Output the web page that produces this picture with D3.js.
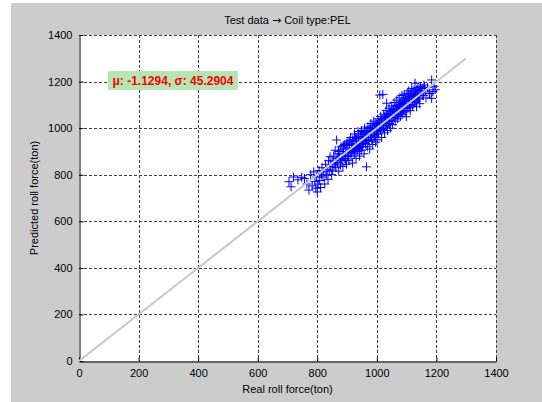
<!DOCTYPE html>
<html>
<head>
<meta charset="utf-8">
<script src="https://cdn.jsdelivr.net/npm/d3@7"></script>
<style>
  body { margin: 0; background: #fff; }
  svg { display: block; }
  text { font-family: "Liberation Sans", Arial, sans-serif; }
</style>
</head>
<body>
<svg id="chart" width="542" height="402"></svg>
<script>
// tick values on both axes
var xTicks = [0, 200, 400, 600, 800, 1000, 1200, 1400]
var yTicks = [0, 200, 400, 600, 800, 1000, 1200, 1400]
// y = x reference line ends
var refLine = [0, 1300]
// real roll force (x) and predicted roll force (y)
var realForce = [
  705,712,720,735,748,757,765,772,778,783,788,792,795,798,800,803,806,808,811,814,
  816,819,822,825,828,830,833,836,838,840,843,845,848,850,
  852,855,857,860,862,865,866,868,870,872,874,876,878,880,882,884,886,888,890,892,894,896,898,
  900,901,903,905,906,908,910,912,913,915,917,918,920,922,924,925,927,929,930,932,934,936,937,939,940,942,944,946,948,949,
  951,952,954,956,957,959,961,962,964,965,966,968,970,971,973,975,976,978,980,981,983,985,986,988,990,991,993,994,996,998,999,
  1001,1003,1004,1006,1008,1010,1011,1013,1014,1016,1018,1020,1021,1023,1024,1026,1028,1030,1031,1033,1034,1036,1038,1040,1041,1043,1045,1047,1048,1050,
  1052,1053,1055,1057,1058,1060,1062,1064,1065,1067,1069,1070,1072,1074,1075,1077,1079,1080,1082,1084,1085,1087,1089,1090,1092,1094,1095,1097,1099,1100,
  1102,1104,1105,1107,1109,1110,1112,1114,1115,1117,1119,1120,1122,1124,1126,1128,1129,1131,1133,1134,1136,1138,1140,1142,1144,1146,1148,
  1152,1155,1158,1162,1165,1170,1176,1178,1184,1184,1188,1192,1196,
  862,871,879,887,893,899,904,909,914,919,923,928,933,938,943,947,953,958,963,967,
  972,977,982,987,992,997,1002,1007,1012,1017,1022,1027,1032,1037,1042,1046,1051,1056,1061,1066,
  1071,1076,1081,1086,1091,1096,1101,1106,1111,1116,1121,1127,1132,1137,1143,1149,1156,1160
]
var predForce = [
  770,748,790,778,789,784,760,734,800,752,812,770,742,790,726,760,818,775,745,800,
  830,790,812,760,845,800,822,780,860,815,877,835,800,858,
  820,880,845,905,830,949,870,852,890,815,875,900,842,920,865,890,835,910,878,930,860,900,845,
  915,880,940,895,862,925,900,960,880,930,905,850,945,915,890,975,935,910,870,955,925,900,985,945,915,880,965,930,905,990,
  955,920,975,940,890,1000,960,935,985,834,950,920,1005,970,945,990,910,960,1020,985,950,1000,930,975,1030,960,995,963,940,1015,985,
  950,1040,1005,975,1025,1142,990,1050,1015,960,1035,1145,1000,1060,1025,980,1045,1010,1075,1107,1030,990,1055,1020,1085,1045,1000,1065,1030,1095,
  1060,1015,1080,1045,1110,1070,1030,1095,1060,1120,1080,1040,1100,1070,1130,1090,1050,1110,1075,1140,1100,1060,1120,1085,1145,1105,1070,1130,1049,1115,
  1150,1090,1125,1160,1100,1135,1075,1150,1115,1170,1130,1095,1160,1140,1110,1193,1150,1120,1092,1165,1140,1175,1130,1160,1105,1180,1150,
  1170,1140,1185,1160,1130,1175,1150,1149,1207,1128,1157,1180,1165,
  850,900,860,925,870,935,880,945,895,950,900,960,910,965,920,975,935,980,945,990,
  950,1000,960,1010,970,1020,985,1025,995,1040,1000,1050,1010,1060,1020,1070,1035,1075,1045,1085,
  1055,1095,1065,1105,1075,1115,1085,1125,1090,1135,1100,1145,1115,1150,1125,1160,1140,1175
]
var stats = { mu: -1.1294, sigma: 45.2904 }

var svg = d3.select("#chart")
var W = 542, H = 402
var mLeft = 79, mRight = 496, mTop = 35, mBottom = 361

// grey figure background
svg.append("rect").attr("x", 11).attr("y", 3).attr("width", W - 11).attr("height", H - 3)
  .attr("fill", "#cccccc")
svg.append("rect").attr("x", mLeft).attr("y", mTop).attr("width", mRight - mLeft).attr("height", mBottom - mTop)
  .attr("fill", "#ffffff")

var x = d3.scaleLinear().domain([0, 1400]).range([mLeft, mRight])
var y = d3.scaleLinear().domain([0, 1400]).range([mBottom, mTop])

// dotted grid
var grid = svg.append("g").attr("stroke", "#404040").attr("stroke-dasharray", "3,2").attr("stroke-width", 1)
xTicks.slice(1).forEach(function(t) {
  grid.append("line").attr("x1", Math.round(x(t)) + 0.5).attr("x2", Math.round(x(t)) + 0.5)
    .attr("y1", mTop).attr("y2", mBottom)
})
yTicks.slice(1).forEach(function(t) {
  grid.append("line").attr("y1", Math.round(y(t)) + 0.5).attr("y2", Math.round(y(t)) + 0.5)
    .attr("x1", mLeft).attr("x2", mRight)
})

// axes, ticks pointing inward
var xAxis = svg.append("g").attr("transform", "translate(0," + (mBottom + 0.5) + ")")
  .call(d3.axisBottom(x).tickValues(xTicks).tickFormat(d3.format("d")).tickSizeInner(-4).tickSizeOuter(0).tickPadding(8))
var yAxis = svg.append("g").attr("transform", "translate(" + (mLeft + 0.5) + ",0)")
  .call(d3.axisLeft(y).tickValues(yTicks).tickFormat(d3.format("d")).tickSizeInner(-4).tickSizeOuter(0).tickPadding(7))
;[xAxis, yAxis].forEach(function(a) {
  a.selectAll("path,line").attr("stroke", "#000")
  a.selectAll("text").attr("font-size", 11).attr("fill", "#000")
    .attr("font-family", "'Liberation Sans', Arial, sans-serif")
})

// scatter of '+' markers
var pts = realForce.map(function(v, i) { return [v, predForce[i]] })
var plus = svg.append("g").attr("stroke", "#0000ff").attr("stroke-width", 1).attr("fill", "none")
pts.forEach(function(p) {
  var cx = x(p[0]), cy = y(p[1]), s = 4.5
  plus.append("path").attr("d", "M" + (cx - s) + "," + cy + "H" + (cx + s) + "M" + cx + "," + (cy - s) + "V" + (cy + s))
})

// y = x line drawn on top
svg.append("line")
  .attr("x1", x(refLine[0])).attr("y1", y(refLine[0]))
  .attr("x2", x(refLine[1])).attr("y2", y(refLine[1]))
  .attr("stroke", "#c8c8c8").attr("stroke-width", 2)

// annotation box
var label = "\u03bc: " + stats.mu + ", \u03c3: " + stats.sigma
svg.append("rect").attr("x", 108).attr("y", 71).attr("width", 130).attr("height", 19)
  .attr("fill", "#b4e6b4")
svg.append("text").attr("x", 173).attr("y", 85).attr("text-anchor", "middle")
  .attr("font-size", 12).attr("font-weight", "bold").attr("fill", "#ff0000")
  .text(label)

// titles
var title = svg.append("text").attr("x", (mLeft + mRight) / 2).attr("y", 24).attr("text-anchor", "middle")
  .attr("font-size", 11)
title.append("tspan").text("Test data ")
title.append("tspan").attr("font-family", "'DejaVu Sans', sans-serif").text("\u2192")
title.append("tspan").text(" Coil type:PEL")
svg.append("text").attr("x", (mLeft + mRight) / 2).attr("y", 393).attr("text-anchor", "middle")
  .attr("font-size", 11).text("Real roll force(ton)")
svg.append("text").attr("transform", "translate(38," + ((mTop + mBottom) / 2) + ") rotate(-90)")
  .attr("text-anchor", "middle").attr("font-size", 11).text("Predicted roll force(ton)")
</script>
</body>
</html>
